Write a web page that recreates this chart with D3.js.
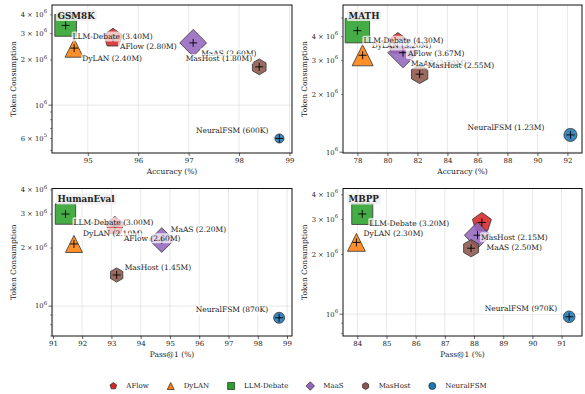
<!DOCTYPE html>
<html><head><meta charset="utf-8">
<script src="https://cdn.jsdelivr.net/npm/d3@7"></script>
<style>
body{margin:0;background:#fff}
svg{display:block}
text{font-family:"DejaVu Serif","Liberation Serif",serif;fill:#222}
</style>
</head><body>
<svg id="c" width="585" height="394"></svg>
<script>
// ---- data ----
const methods = ["AFlow", "DyLAN", "LLM-Debate", "MaaS", "MasHost", "NeuralFSM"];
const colors = ["#d62728", "#ff7f0e", "#2ca02c", "#9467bd", "#8c564b", "#1f77b4"];
const shapes = ["pentagon", "triangle", "square", "diamond", "hexagon", "circle"];

const gsm8kAcc = [95.5, 94.73, 94.56, 97.09, 98.4, 98.8];
const gsm8kTok = [2.8e6, 2.4e6, 3.4e6, 2.6e6, 1.8e6, 0.6e6];
const gsm8kLbl = ["AFlow (2.80M)", "DyLAN (2.40M)", "LLM-Debate (3.40M)", "MaAS (2.60M)", "MasHost (1.80M)", "NeuralFSM (600K)"];
const gsm8kXTicks = [95, 96, 97, 98, 99];

const mathAcc = [80.7, 78.35, 78.0, 81.04, 82.15, 92.2];
const mathTok = [3.67e6, 3.2e6, 4.3e6, 3.3e6, 2.55e6, 1.23e6];
const mathLbl = ["AFlow (3.67M)", "DyLAN (3.20M)", "LLM-Debate (4.30M)", "MaAS (3.30M)", "MasHost (2.55M)", "NeuralFSM (1.23M)"];
const mathXTicks = [78, 80, 82, 84, 86, 88, 90, 92];

const humanAcc = [93.12, 91.72, 91.43, 94.72, 93.18, 98.73];
const humanTok = [2.6e6, 2.1e6, 3.0e6, 2.2e6, 1.45e6, 0.87e6];
const humanLbl = ["AFlow (2.60M)", "DyLAN (2.10M)", "LLM-Debate (3.00M)", "MaAS (2.20M)", "MasHost (1.45M)", "NeuralFSM (870K)"];
const humanXTicks = [91, 92, 93, 94, 95, 96, 97, 98, 99];

const mbppAcc = [88.27, 83.97, 84.17, 88.12, 87.9, 91.26];
const mbppTok = [2.9e6, 2.3e6, 3.2e6, 2.5e6, 2.15e6, 0.97e6];
const mbppLbl = [null, "DyLAN (2.30M)", "LLM-Debate (3.20M)", "MaAS (2.50M)", "MasHost (2.15M)", "NeuralFSM (970K)"];
const mbppXTicks = [84, 85, 86, 87, 88, 89, 90, 91];

// ---- label placement (pixel offsets: dx, dy, anchor) ----
const gsm8kOff = [[7,8,"start"],[8,10,"start"],[7,11,"start"],[8,10,"start"],[-7,-8,"end"],[-11,-8,"end"]];
const mathOff  = [[10,10,"start"],[9,-10,"start"],[6,10,"start"],[8,11,"start"],[8,-9,"start"],[-26,-8,"end"]];
const humanOff = [[9,12,"start"],[9,-11,"start"],[8,8,"start"],[9,-11,"start"],[8,-8,"start"],[-11,-8,"end"]];
const mbppOff  = [null,[7,-9,"start"],[7,9,"start"],[9,12,"start"],[10,-11,"start"],[-12,-8,"end"]];

const panels = [
  {name:"GSM8K", acc:gsm8kAcc, tok:gsm8kTok, lbl:gsm8kLbl, off:gsm8kOff, xt:gsm8kXTicks,
   xd:[94.29, 99.05], yd:[4.8e5, 4.65e6], xl:"Accuracy (%)", box:[52, 5, 292, 153]},
  {name:"MATH", acc:mathAcc, tok:mathTok, lbl:mathLbl, off:mathOff, xt:mathXTicks,
   xd:[77.04, 92.97], yd:[0.99e6, 5.85e6], xl:"Accuracy (%)", box:[343, 5, 582, 153]},
  {name:"HumanEval", acc:humanAcc, tok:humanTok, lbl:humanLbl, off:humanOff, xt:humanXTicks,
   xd:[90.97, 99.17], yd:[0.70e6, 4.07e6], xl:"Pass@1 (%)", box:[52, 188.5, 292, 336]},
  {name:"MBPP", acc:mbppAcc, tok:mbppTok, lbl:mbppLbl, off:mbppOff, xt:mbppXTicks,
   xd:[83.51, 91.7], yd:[0.776e6, 4.3e6], xl:"Pass@1 (%)", box:[343, 188.5, 582, 336]}
];

const svg = d3.select("#c");
const K = 11.77;

function shapePath(shape, S) {
  const p = d3.path();
  const poly = (n, r, rot) => {
    for (let i = 0; i < n; i++) {
      const a = rot + i * 2 * Math.PI / n;
      const x = r * Math.sin(a), y = -r * Math.cos(a);
      if (i === 0) p.moveTo(x, y); else p.lineTo(x, y);
    }
    p.closePath();
  };
  if (shape === "circle") { p.arc(0, 0, S / 2, 0, 2 * Math.PI); p.closePath(); }
  else if (shape === "square") { p.rect(-S/2, -S/2, S, S); }
  else if (shape === "triangle") { p.moveTo(0, -S/2); p.lineTo(S/2, S/2); p.lineTo(-S/2, S/2); p.closePath(); }
  else if (shape === "diamond") { const r = S * 0.7071; p.moveTo(0,-r); p.lineTo(r,0); p.lineTo(0,r); p.lineTo(-r,0); p.closePath(); }
  else if (shape === "pentagon") poly(5, S/2, 0);
  else if (shape === "hexagon") poly(6, S/2, 0);
  return p.toString();
}

function supLabel(sel, coef, exp) {
  sel.text(coef === 1 ? "10" : coef + " \u00d7 10");
  sel.append("tspan").attr("dy", -3.8).attr("font-size", 5.3).text(exp);
}

panels.forEach(P => {
  const [x0, y0, x1, y1] = P.box;
  const x = d3.scaleLinear().domain(P.xd).range([x0, x1]);
  const y = d3.scaleLog().domain(P.yd).range([y1, y0]);
  const g = svg.append("g");

  // grid
  g.selectAll(".gx").data(P.xt).join("line")
    .attr("x1", d => x(d)).attr("x2", d => x(d)).attr("y1", y0).attr("y2", y1)
    .attr("stroke", "#d8d8d8").attr("stroke-width", 0.6);
  g.append("line").attr("x1", x0).attr("x2", x1).attr("y1", y(1e6)).attr("y2", y(1e6))
    .attr("stroke", "#d8d8d8").attr("stroke-width", 0.6);

  // x axis
  const xa = g.append("g").attr("transform", `translate(0,${y1})`)
    .call(d3.axisBottom(x).tickValues(P.xt).tickSize(3).tickPadding(2.5).tickFormat(d3.format("d")));
  xa.select(".domain").remove();
  xa.selectAll("line").attr("stroke", "#222").attr("stroke-width", 0.7);
  xa.selectAll("text").attr("font-size", 7).attr("font-family", "DejaVu Serif").attr("fill", "#222");

  // y axis (log) with labelled & minor ticks
  const yt = [];
  [5, 6].forEach(e => { for (let c = 1; c <= 9; c++) { const v = c * Math.pow(10, e); if (v >= P.yd[0] && v <= P.yd[1]) yt.push({v, c, e}); } });
  const ya = g.append("g");
  yt.forEach(t => {
    const lab = [1, 2, 3, 4, 6].includes(t.c);
    const major = t.c === 1;
    ya.append("line").attr("x1", x0).attr("x2", x0 - (major ? 3.5 : 2)).attr("y1", y(t.v)).attr("y2", y(t.v))
      .attr("stroke", "#222").attr("stroke-width", major ? 0.7 : 0.5);
    if (lab) {
      const tx = ya.append("text").attr("x", x0 - 5).attr("y", y(t.v)).attr("dy", "0.35em")
        .attr("text-anchor", "end").attr("font-size", 6.8);
      supLabel(tx, t.c, t.e);
    }
  });

  // frame
  g.append("rect").attr("x", x0).attr("y", y0).attr("width", x1 - x0).attr("height", y1 - y0)
    .attr("fill", "none").attr("stroke", "#111").attr("stroke-width", 1);

  // axis titles
  g.append("text").attr("x", (x0 + x1) / 2).attr("y", y1 + 21).attr("text-anchor", "middle")
    .attr("font-size", 7.5).text(P.xl);
  g.append("text").attr("transform", `translate(${x0 - 36},${(y0 + y1) / 2}) rotate(-90)`)
    .attr("text-anchor", "middle").attr("font-size", 7.5).text("Token Consumption");

  // markers
  const idx = d3.range(methods.length);
  const mk = g.append("g");
  idx.forEach(i => {
    const S = K * Math.sqrt(P.tok[i] / 1e6);
    mk.append("path").attr("d", shapePath(shapes[i], S))
      .attr("transform", `translate(${x(P.acc[i])},${y(P.tok[i])})`)
      .attr("fill", colors[i]).attr("fill-opacity", 0.88)
      .attr("stroke", "#333").attr("stroke-width", 0.8);
  });
  idx.forEach(i => {
    const cx = x(P.acc[i]), cy = y(P.tok[i]);
    mk.append("path").attr("d", `M${cx-4},${cy}H${cx+4}M${cx},${cy-4}V${cy+4}`)
      .attr("stroke", "#000").attr("stroke-width", 0.9);
  });

  // labels
  const lg = g.append("g");
  [1, 0, 2, 3, 4, 5].forEach(i => {
    if (!P.lbl[i] || !P.off[i]) return;
    const [dx, dy, anc] = P.off[i];
    const tx = x(P.acc[i]) + dx, ty = y(P.tok[i]) + dy;
    const gg = lg.append("g");
    const t = gg.append("text").attr("x", tx).attr("y", ty).attr("dy", "0.35em")
      .attr("text-anchor", anc).attr("font-size", 7.5).text(P.lbl[i]);
    const bb = t.node().getBBox();
    gg.insert("rect", "text").attr("x", bb.x - 1).attr("y", bb.y - 0.5).attr("width", bb.width + 2)
      .attr("height", bb.height + 1).attr("rx", 1.5).attr("fill", "#fff").attr("fill-opacity", 0.7);
  });

  // panel title
  const tg = g.append("g");
  const tt = tg.append("text").attr("x", x0 + 5.5).attr("y", y0 + 10.5).attr("dy", "0.35em")
    .attr("font-size", 8.8).attr("font-weight", "bold").attr("fill", "#111").text(P.name);
  const tb = tt.node().getBBox();
  tg.insert("rect", "text").attr("x", tb.x - 1.5).attr("y", tb.y - 0.5).attr("width", tb.width + 3)
    .attr("height", tb.height + 1).attr("rx", 1.5).attr("fill", "#eeeeee").attr("fill-opacity", 0.85);
});

// legend
const leg = svg.append("g");
let cx = 0;
methods.forEach((m, i) => {
  const it = leg.append("g").attr("transform", `translate(${cx},0)`);
  it.append("path").attr("d", shapePath(shapes[i], shapes[i] === "diamond" ? 6 : 7))
    .attr("fill", colors[i]).attr("stroke", "#222").attr("stroke-width", 0.7);
  const t = it.append("text").attr("x", 13).attr("dy", "0.35em").attr("font-size", 7).text(m);
  cx += 13 + t.node().getComputedTextLength() + 22;
});
const lw = cx - 22;
leg.attr("transform", `translate(${297 - lw / 2 + 3},386)`);
</script>
</body></html>
